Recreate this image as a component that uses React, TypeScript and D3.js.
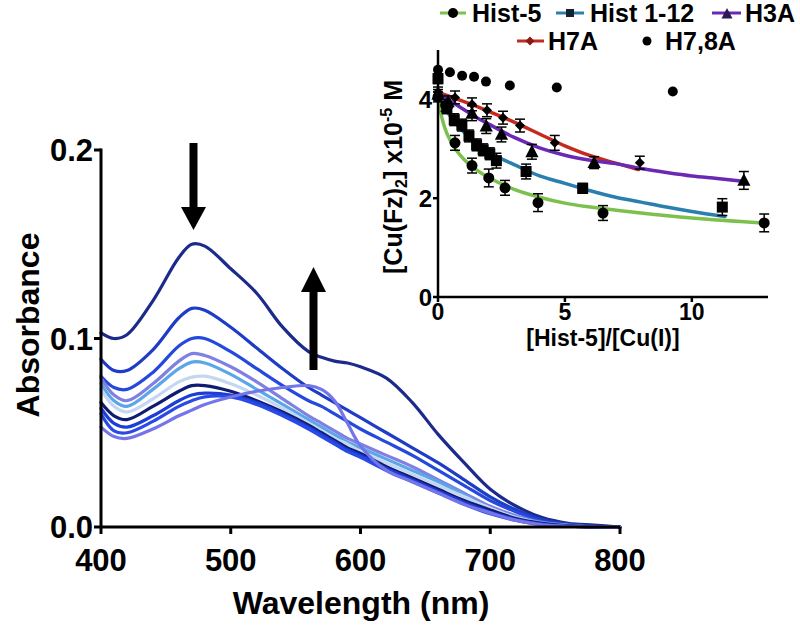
import React from 'react';
import * as d3 from 'd3';

const wavelengths = [400, 410, 420, 440, 460, 470, 480, 500, 520, 540, 560, 570, 580, 590, 600, 620, 640, 660, 680, 700, 720, 740, 760, 780, 800];

const spectrum1 = [0.103, 0.100, 0.102, 0.120, 0.143, 0.150, 0.149, 0.137, 0.124, 0.106, 0.093, 0.090, 0.088, 0.087, 0.085, 0.079, 0.066, 0.049, 0.034, 0.020, 0.011, 0.005, 0.002, 0.001, 0];
const spectrum2 = [0.089, 0.083, 0.083, 0.094, 0.111, 0.116, 0.115, 0.106, 0.095, 0.084, 0.074, 0.070, 0.066, 0.062, 0.058, 0.050, 0.042, 0.034, 0.025, 0.016, 0.009, 0.004, 0.0015, 0.0005, 0];
const spectrum3 = [0.080, 0.074, 0.073, 0.082, 0.096, 0.100, 0.100, 0.093, 0.084, 0.075, 0.067, 0.064, 0.060, 0.056, 0.052, 0.045, 0.038, 0.030, 0.022, 0.014, 0.008, 0.003, 0.001, 0.0003, 0];
const spectrum4 = [0.079, 0.070, 0.067, 0.076, 0.088, 0.092, 0.091, 0.085, 0.077, 0.068, 0.059, 0.055, 0.051, 0.047, 0.044, 0.038, 0.032, 0.025, 0.018, 0.011, 0.006, 0.0025, 0.001, 0, 0];
const spectrum5 = [0.076, 0.067, 0.064, 0.073, 0.084, 0.0875, 0.087, 0.081, 0.073, 0.065, 0.057, 0.053, 0.049, 0.045, 0.042, 0.036, 0.030, 0.024, 0.017, 0.010, 0.005, 0.002, 0.0008, 0, 0];
const spectrum6 = [0.073, 0.064, 0.061, 0.068, 0.077, 0.0795, 0.080, 0.076, 0.070, 0.063, 0.055, 0.051, 0.047, 0.044, 0.040, 0.034, 0.028, 0.022, 0.016, 0.010, 0.005, 0.002, 0.0008, 0, 0];
const spectrum7 = [0.066, 0.059, 0.057, 0.064, 0.072, 0.075, 0.075, 0.072, 0.067, 0.061, 0.054, 0.050, 0.046, 0.042, 0.039, 0.032, 0.026, 0.020, 0.014, 0.009, 0.0045, 0.002, 0.0007, 0, 0];
const spectrum8 = [0.063, 0.055, 0.053, 0.059, 0.067, 0.070, 0.071, 0.070, 0.066, 0.060, 0.053, 0.049, 0.045, 0.041, 0.038, 0.031, 0.025, 0.019, 0.013, 0.008, 0.004, 0.0015, 0.0005, 0, 0];
const spectrum9 = [0.060, 0.051, 0.050, 0.056, 0.064, 0.067, 0.069, 0.069, 0.065, 0.059, 0.052, 0.048, 0.044, 0.040, 0.037, 0.030, 0.024, 0.018, 0.012, 0.007, 0.0035, 0.0012, 0.0004, 0, 0];
const spectrum10 = [0.053, 0.048, 0.047, 0.052, 0.059, 0.062, 0.065, 0.069, 0.072, 0.074, 0.075, 0.073, 0.067, 0.055, 0.043, 0.030, 0.024, 0.018, 0.012, 0.0075, 0.0035, 0.0012, 0.0004, 0, 0];

const spectrumColors = ['#1c2a8c', '#1e3cc6', '#2449dc', '#8080e2', '#5aa6e8', '#c4d6f0', '#101c72', '#1c3ed4', '#2a4ae6', '#7575ea'];

const mainXTicks = [400, 500, 600, 700, 800];
const mainYTicks = [0, 0.1, 0.2];

// Inset data
const hist5X = [0, 0.3, 0.67, 1.34, 2.0, 2.64, 3.94, 6.5, 12.85];
const hist5Y = [4.05, 3.88, 3.12, 2.66, 2.41, 2.21, 1.91, 1.70, 1.50];
const hist5Err = [0.1, 0.12, 0.15, 0.15, 0.18, 0.15, 0.18, 0.15, 0.18];
const hist5FitX = [0, 0.1, 0.25, 0.5, 0.75, 1, 1.5, 2, 3, 4, 5, 6, 8, 10, 12.8];
const hist5FitY = [4.05, 3.75, 3.45, 3.15, 2.95, 2.8, 2.58, 2.42, 2.18, 2.02, 1.9, 1.82, 1.7, 1.6, 1.5];

const hist112X = [0, 0.35, 0.64, 0.94, 1.22, 1.52, 1.78, 2.04, 2.3, 3.47, 5.7, 11.2];
const hist112Y = [4.42, 3.83, 3.59, 3.48, 3.26, 3.08, 2.98, 2.9, 2.76, 2.54, 2.2, 1.82];
const hist112Err = [0.1, 0.12, 0.12, 0.12, 0.12, 0.12, 0.12, 0.12, 0.15, 0.15, 0.1, 0.17];
const hist112FitX = [0, 0.25, 0.5, 1, 1.5, 2, 2.5, 3, 4, 5, 6, 7, 8, 9, 10, 11.3];
const hist112FitY = [4.1, 3.85, 3.65, 3.35, 3.12, 2.95, 2.8, 2.68, 2.45, 2.3, 2.15, 2.02, 1.92, 1.82, 1.73, 1.63];

const h3aX = [0, 0.4, 1.34, 1.9, 2.5, 3.7, 6.15, 12.05];
const h3aY = [4.1, 3.95, 3.72, 3.46, 3.29, 2.94, 2.72, 2.36];
const h3aErr = [0.1, 0.12, 0.15, 0.15, 0.15, 0.15, 0.12, 0.18];
const h3aFitX = [0, 0.5, 1, 1.5, 2, 3, 4, 5, 6, 7, 8, 9, 10, 11, 12.1];
const h3aFitY = [4.14, 3.97, 3.8, 3.64, 3.5, 3.23, 3.02, 2.87, 2.77, 2.7, 2.6, 2.52, 2.45, 2.4, 2.34];

const h7aX = [0, 0.67, 1.34, 1.93, 2.56, 3.23, 4.6, 7.95];
const h7aY = [4.15, 4.04, 3.9, 3.78, 3.63, 3.47, 3.12, 2.72];
const h7aErr = [0.1, 0.13, 0.13, 0.13, 0.13, 0.13, 0.15, 0.13];
const h7aFitX = [0, 1, 2, 3, 4, 5, 6, 7, 7.9];
const h7aFitY = [4.14, 3.96, 3.76, 3.54, 3.3, 3.06, 2.86, 2.71, 2.58];

const h78aX = [0, 0.47, 0.95, 1.42, 1.89, 2.83, 4.68, 9.25];
const h78aY = [4.6, 4.55, 4.48, 4.46, 4.36, 4.28, 4.24, 4.16];

const insetXTicks = [0, 5, 10];
const insetYTicks = [0, 2, 4];

const FONT = "'Liberation Sans', Arial, Helvetica, sans-serif";

export default function App() {
  const spectra = [spectrum1, spectrum2, spectrum3, spectrum4, spectrum5, spectrum6, spectrum7, spectrum8, spectrum9, spectrum10];
  const x = d3.scaleLinear().domain([400, 800]).range([101, 620]);
  const y = d3.scaleLinear().domain([0, 0.2]).range([527, 150]);
  const specLine = d3.line<number>()
    .x((_, i) => x(wavelengths[i]))
    .y((d) => y(d))
    .curve(d3.curveCatmullRom.alpha(0.5));

  const ix = d3.scaleLinear().domain([0, 13]).range([438, 768]);
  const iy = d3.scaleLinear().domain([0, 5]).range([297, 50]);
  const fitLine = (xs: number[], ys: number[]) =>
    d3.line<number>().x((_, i) => ix(xs[i])).y((d) => iy(d)).curve(d3.curveMonotoneX)(ys) || '';

  const errorBars = (xs: number[], ys: number[], es: number[], key: string) =>
    xs.map((v, i) => {
      const cx = ix(v);
      const y1 = iy(ys[i] + es[i]);
      const y2 = iy(ys[i] - es[i]);
      return (
        <g key={key + i} stroke="#000" strokeWidth={1.5}>
          <line x1={cx} x2={cx} y1={y1} y2={y2} />
          <line x1={cx - 5} x2={cx + 5} y1={y1} y2={y1} />
          <line x1={cx - 5} x2={cx + 5} y1={y2} y2={y2} />
        </g>
      );
    });

  const triPath = (cx: number, cy: number, s: number) =>
    `M${cx},${cy - s * 0.6}L${cx + s * 0.55},${cy + s * 0.45}L${cx - s * 0.55},${cy + s * 0.45}Z`;
  const diaPath = (cx: number, cy: number, s: number) =>
    `M${cx},${cy - s}L${cx + s},${cy}L${cx},${cy + s}L${cx - s},${cy}Z`;

  const green = '#7cc04e';
  const teal = '#2a7fae';
  const purple = '#6a28b4';
  const red = '#c42a1e';

  return (
    <svg width={800} height={628} style={{ position: 'absolute', left: 0, top: 0, background: '#fff' }} fontFamily={FONT} fontWeight="bold">
      <rect width={800} height={628} fill="#fff" />
      {/* spectra */}
      <g fill="none" strokeWidth={3.2} strokeLinejoin="round" strokeLinecap="round">
        {spectra.map((s, i) => (
          <path key={i} d={specLine(s) || ''} stroke={spectrumColors[i]} />
        ))}
      </g>
      {/* main axes */}
      <g stroke="#000" strokeWidth={3}>
        <line x1={101} x2={101} y1={y(0.2) - 1.5} y2={y(0)} />
        <line x1={101} x2={x(800)} y1={y(0)} y2={y(0)} />
        {mainYTicks.map((t) => (
          <line key={'yt' + t} x1={94} x2={101} y1={y(t)} y2={y(t)} />
        ))}
        {mainXTicks.map((t) => (
          <line key={'xt' + t} x1={x(t)} x2={x(t)} y1={y(0)} y2={y(0) + 7} />
        ))}
      </g>
      {mainYTicks.map((t) => (
        <text key={'yl' + t} x={93} y={y(t)} dy="0.36em" textAnchor="end" fontSize={31}>
          {d3.format('.1f')(t)}
        </text>
      ))}
      {mainXTicks.map((t) => (
        <text key={'xl' + t} x={x(t)} y={571} textAnchor="middle" fontSize={31}>
          {t}
        </text>
      ))}
      <text x={361} y={614} textAnchor="middle" fontSize={32}>Wavelength (nm)</text>
      <text transform="translate(39,325) rotate(-90)" textAnchor="middle" fontSize={32}>Absorbance</text>

      {/* arrows */}
      <g fill="#000">
        <rect x={189.5} y={143} width={8} height={66} />
        <path d="M181,207L206,207L193.5,230Z" />
        <rect x={309.5} y={290} width={8} height={80} />
        <path d="M301,292L326,292L313.5,267Z" />
      </g>

      {/* inset */}
      <g fill="none" strokeWidth={3.5} strokeLinecap="round">
        <path d={fitLine(hist5FitX, hist5FitY)} stroke={green} />
        <path d={fitLine(hist112FitX, hist112FitY)} stroke={teal} />
        <path d={fitLine(h7aFitX, h7aFitY)} stroke={red} />
        <path d={fitLine(h3aFitX, h3aFitY)} stroke={purple} />
      </g>
      {errorBars(hist5X, hist5Y, hist5Err, 'e5')}
      {errorBars(hist112X, hist112Y, hist112Err, 'e12')}
      {errorBars(h3aX, h3aY, h3aErr, 'e3')}
      {errorBars(h7aX, h7aY, h7aErr, 'e7')}
      <g fill="#000">
        {hist5X.map((v, i) => (
          <circle key={'c5' + i} cx={ix(v)} cy={iy(hist5Y[i])} r={5.5} />
        ))}
        {hist112X.map((v, i) => (
          <rect key={'s12' + i} x={ix(v) - 5.5} y={iy(hist112Y[i]) - 5.5} width={11} height={11} />
        ))}
        {h3aX.map((v, i) => (
          <path key={'t3' + i} d={triPath(ix(v), iy(h3aY[i]), 12)} />
        ))}
        {h7aX.map((v, i) => (
          <path key={'d7' + i} d={diaPath(ix(v), iy(h7aY[i]), 5)} />
        ))}
        {h78aX.map((v, i) => (
          <circle key={'c78' + i} cx={ix(v)} cy={iy(h78aY[i])} r={5} />
        ))}
      </g>
      <g stroke="#000" strokeWidth={2.5}>
        <line x1={438} x2={438} y1={iy(5)} y2={iy(0)} />
        <line x1={438} x2={ix(13)} y1={iy(0)} y2={iy(0)} />
        {insetYTicks.map((t) => (
          <line key={'iyt' + t} x1={433} x2={438} y1={iy(t)} y2={iy(t)} />
        ))}
        {insetXTicks.map((t) => (
          <line key={'ixt' + t} x1={ix(t)} x2={ix(t)} y1={iy(0)} y2={iy(0) + 5} />
        ))}
      </g>
      {insetYTicks.map((t) => (
        <text key={'iyl' + t} x={432} y={iy(t)} dy="0.36em" textAnchor="end" fontSize={24}>{t}</text>
      ))}
      {insetXTicks.map((t) => (
        <text key={'ixl' + t} x={ix(t)} y={320} textAnchor="middle" fontSize={23}>{t}</text>
      ))}
      <text x={603} y={346} textAnchor="middle" fontSize={23}>[Hist-5]/[Cu(I)]</text>
      <text transform="translate(402,177) rotate(-90)" textAnchor="middle" fontSize={25}>
        [Cu(Fz)<tspan fontSize={16} dy={5}>2</tspan><tspan dy={-5}>] x10</tspan><tspan fontSize={16} dy={-10}>-5</tspan><tspan dy={10}> M</tspan>
      </text>

      {/* legend */}
      <g strokeWidth={3}>
        <line x1={440} x2={466} y1={13} y2={13} stroke={green} />
        <line x1={556} x2={584} y1={13} y2={13} stroke={teal} />
        <line x1={712} x2={741} y1={13} y2={13} stroke={purple} />
        <line x1={517} x2={544} y1={41} y2={41} stroke={red} />
      </g>
      <circle cx={453} cy={13} r={5} fill="#000" />
      <rect x={566} y={9} width={8} height={8} fill="#123" />
      <path d={triPath(727, 14, 10)} fill="#2a1a50" />
      <path d={diaPath(530, 41, 4.5)} fill="#8a1a10" />
      <circle cx={647} cy={41} r={4.5} fill="#000" />
      <g fontSize={25}>
        <text x={472} y={22}>Hist-5</text>
        <text x={590} y={22}>Hist 1-12</text>
        <text x={745} y={22}>H3A</text>
        <text x={548} y={50}>H7A</text>
        <text x={665} y={50}>H7,8A</text>
      </g>
    </svg>
  );
}
